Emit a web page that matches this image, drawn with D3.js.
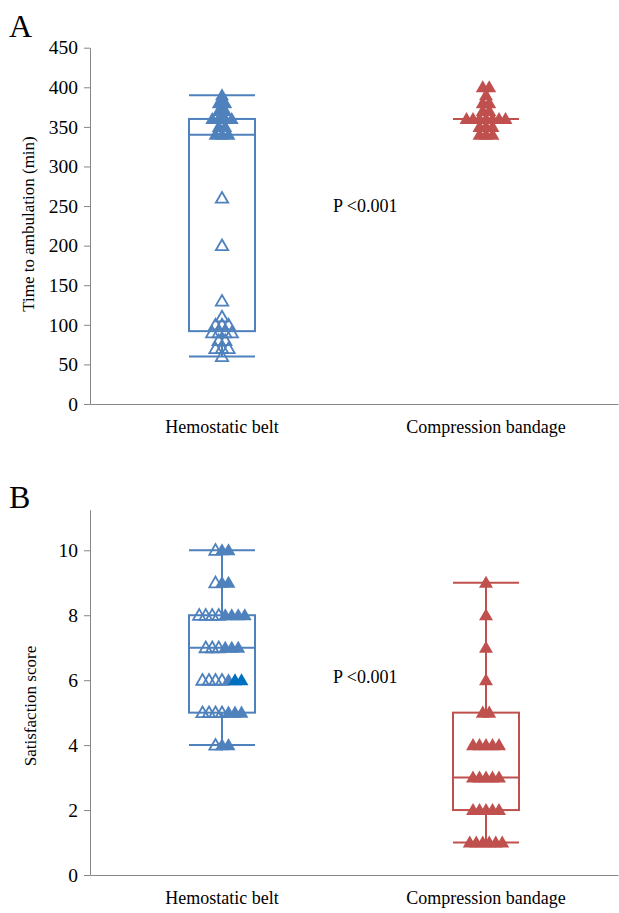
<!DOCTYPE html>
<html>
<head>
<script src="https://d3js.org/d3.v7.min.js"></script>
<style>
  body { margin: 0; background: #fff; }
  svg text { font-family: "Liberation Serif", "Times New Roman", Tinos, "DejaVu Serif", serif !important; }
</style>
</head>
<body>
<script>
// categories
var categories = ["Hemostatic belt", "Compression bandage"];

// panel A: time to ambulation (min)
var ambBeltFilled = [390, 385, 380, 380, 370, 370, 360, 360, 360, 360, 350, 350, 340, 340, 340];
var ambBeltOpen = [260, 200, 130, 110, 100, 100, 100, 90, 90, 90, 90, 80, 80, 70, 70, 70, 60];
var ambBandage = [400, 400, 390, 380, 380, 370, 370, 360, 360, 360, 360, 360, 360, 360, 350, 350, 350, 340, 340, 340];
// min, q1, median, q3, max
var ambBeltBox = [60, 92, 340, 360, 390];
var ambBandageBox = [360, 360, 360, 360, 360];
var ambTicks = [0, 50, 100, 150, 200, 250, 300, 350, 400, 450];

// panel B: satisfaction score
var satBeltOpen = [10, 9, 8, 8, 8, 8, 7, 7, 7, 6, 6, 6, 6, 5, 5, 5, 5, 4];
var satBeltFilled = [10, 10, 9, 9, 8, 8, 8, 8, 7, 7, 7, 6, 5, 5, 5, 4, 4];
var satBeltDark = [6, 6];
var satBandage = [9, 8, 7, 6, 5, 5, 4, 4, 4, 4, 4, 3, 3, 3, 3, 3, 2, 2, 2, 2, 2, 1, 1, 1, 1, 1, 1];
var satBeltBox = [4, 5, 7, 8, 10];
var satBandageBox = [1, 2, 3, 5, 9];
var satTicks = [0, 2, 4, 6, 8, 10];

var pLabel = "P <0.001";

var blue = "#4F81BD", red = "#C0504D", darkBlue = "#0070C0", axisColor = "#868686";
var serif = "'Liberation Serif', 'Times New Roman', Tinos, 'DejaVu Serif', serif";

var W = 619, H = 913;
var svg = d3.select("body").append("svg").attr("width", W).attr("height", H)
    .attr("font-family", serif);

var x = d3.scaleBand().domain(categories).range([90, 618]);

function panel(opts) {
    var y = d3.scaleLinear().domain(opts.domain).range(opts.range);
    var g = svg.append("g");

    // y axis
    var ya = g.append("g").attr("transform", "translate(90,0)")
        .call(d3.axisLeft(y).tickValues(opts.ticks).tickSize(6).tickPadding(6).tickSizeOuter(0))
        .attr("font-family", serif).attr("font-size", 19.5);
    ya.select(".domain").attr("stroke", axisColor);
    ya.selectAll(".tick line").attr("stroke", axisColor);
    ya.selectAll(".tick text").attr("fill", "#000");

    // x axis
    var xa = g.append("g").attr("transform", "translate(0," + y(0) + ")")
        .call(d3.axisBottom(x).tickSize(0).tickPadding(0))
        .attr("font-family", serif).attr("font-size", 18);
    xa.select(".domain").attr("stroke", axisColor);
    xa.selectAll(".tick text").attr("fill", "#000").attr("dy", "29px");

    // y label
    g.append("text")
        .attr("transform", "translate(" + opts.labelX + "," + opts.labelY + ") rotate(-90)")
        .attr("text-anchor", "middle").attr("dy", "0.35em")
        .attr("font-size", "17px")
        .text(opts.yLabel);

    // panel letter
    g.append("text").attr("x", 9).attr("y", opts.letterY)
        .attr("font-size", "32px").text(opts.letter);

    // boxes
    var bw = x.bandwidth() * 0.25;
    opts.boxes.forEach(function (b) {
        var cx = x(b.cat) + x.bandwidth() / 2;
        var s = b.stats;
        var bg = g.append("g").attr("stroke", b.color).attr("stroke-width", 2).attr("fill", "none");
        bg.append("line").attr("x1", cx).attr("x2", cx).attr("y1", y(s[0])).attr("y2", y(s[1]));
        bg.append("line").attr("x1", cx).attr("x2", cx).attr("y1", y(s[3])).attr("y2", y(s[4]));
        bg.append("rect").attr("x", cx - bw / 2).attr("width", bw)
            .attr("y", y(s[3])).attr("height", y(s[1]) - y(s[3]));
        [s[0], s[2], s[4]].forEach(function (v) {
            bg.append("line").attr("x1", cx - bw / 2).attr("x2", cx + bw / 2)
                .attr("y1", y(v)).attr("y2", y(v));
        });
    });

    // points: ties are spread side by side in a row
    var sym = d3.symbol().type(d3.symbolTriangle);
    var spacing = 6.5;
    opts.groups.forEach(function (grp) {
        var cx = x(grp.cat) + x.bandwidth() / 2;
        var pts = [];
        grp.sets.forEach(function (set, k) {
            set.values.forEach(function (v) { pts.push({ v: v, k: k, set: set }); });
        });
        var rows = d3.group(pts, function (d) { return d.v; });
        rows.forEach(function (row) {
            row.sort(function (a, b) { return a.k - b.k; });
            row.forEach(function (d, i) {
                d.px = cx + (i - (row.length - 1) / 2) * spacing;
            });
        });
        g.selectAll(null).data(pts).enter().append("path")
            .attr("d", function (d) { return sym.size(d.set.open ? 66 : 84)(); })
            .attr("transform", function (d) { return "translate(" + d.px + "," + (y(d.v) + 1) + ")"; })
            .attr("fill", function (d) { return d.set.open ? "none" : d.set.color; })
            .attr("stroke", function (d) { return d.set.open ? d.set.color : "none"; })
            .attr("stroke-width", 1.8);
    });

    // p value
    g.append("text").attr("x", 333).attr("y", y(opts.pAt)).attr("dy", "0.35em")
        .attr("font-size", "18px").text(pLabel);
}

panel({
    domain: [0, 450], range: [404, 47.7], ticks: ambTicks,
    yLabel: "Time to ambulation (min)", labelX: 28, labelY: 224,
    letter: "A", letterY: 37, pAt: 250,
    boxes: [
        { cat: categories[0], stats: ambBeltBox, color: blue },
        { cat: categories[1], stats: ambBandageBox, color: red }
    ],
    groups: [
        { cat: categories[0], sets: [{ values: ambBeltOpen, open: true, color: blue }, { values: ambBeltFilled, color: blue }] },
        { cat: categories[1], sets: [{ values: ambBandage, color: red }] }
    ]
});

panel({
    domain: [0, 11.25], range: [875, 509.7], ticks: satTicks,
    yLabel: "Satisfaction score", labelX: 30, labelY: 706,
    letter: "B", letterY: 508, pAt: 6.1,
    boxes: [
        { cat: categories[0], stats: satBeltBox, color: blue },
        { cat: categories[1], stats: satBandageBox, color: red }
    ],
    groups: [
        { cat: categories[0], sets: [{ values: satBeltOpen, open: true, color: blue }, { values: satBeltFilled, color: blue }, { values: satBeltDark, color: darkBlue }] },
        { cat: categories[1], sets: [{ values: satBandage, color: red }] }
    ]
});
</script>
</body>
</html>
